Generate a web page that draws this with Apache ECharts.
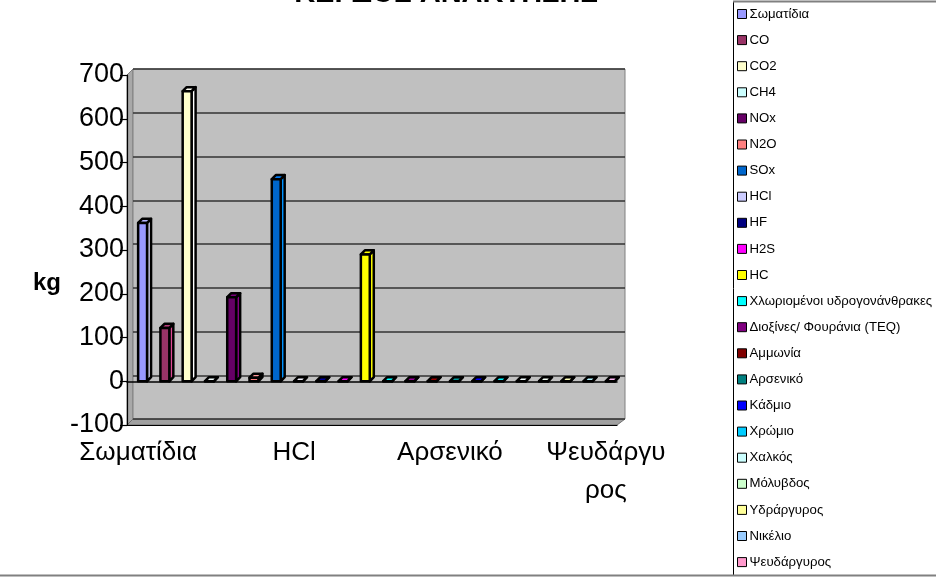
<!DOCTYPE html>
<html>
<head>
<meta charset="utf-8">
<script src="https://cdn.jsdelivr.net/npm/echarts@6/dist/echarts.min.js"></script>
<style>
  html, body { margin: 0; padding: 0; background: #fff; }
  #chart { width: 936px; height: 577px; }
</style>
</head>
<body>
<div id="chart"></div>
<script>
// Pollutant categories (x axis and legend entries)
const categories = [
  'Σωματίδια', 'CO', 'CO2', 'CH4', 'NOx', 'N2O', 'SOx', 'HCl', 'HF', 'H2S', 'HC',
  'Χλωριομένοι υδρογονάνθρακες', 'Διοξίνες/ Φουράνια (TEQ)', 'Αμμωνία', 'Αρσενικό',
  'Κάδμιο', 'Χρώμιο', 'Χαλκός', 'Μόλυβδος', 'Υδράργυρος', 'Νικέλιο', 'Ψευδάργυρος'
];
// Quantity per pollutant, kg
const values = [362, 122, 663, 0, 192, 8, 462, 0, 0, 0, 290, 0, 0, 0, 0, 0, 0, 0, 0, 0, 0, 0];
// Fill colour of each pollutant's column
const colors = [
  '#9999FF', '#993366', '#FFFFCC', '#CCFFFF', '#660066', '#FF8080', '#0066CC', '#CCCCFF',
  '#000080', '#FF00FF', '#FFFF00', '#00FFFF', '#800080', '#800000', '#008080', '#0000FF',
  '#00CCFF', '#CCFFFF', '#CCFFCC', '#FFFF99', '#99CCFF', '#FF99CC'
];
// Value axis range
const yMin = -100, yMax = 700, yStep = 100;

const titleText = 'ΚΕΡΔΟΣ ΑΝΑΚΤΗΣΗΣ';
const unitText = 'kg';

const chart = echarts.init(document.getElementById('chart'), null, { renderer: 'canvas' });
const FONT = 'Arial, "Liberation Sans", sans-serif';

// Column drawn as a box: front face, right side face and top face
function renderBox(params, api) {
  const i = api.value(0), v = api.value(1);
  const base = api.coord([i, 0]);
  const top = api.coord([i, v]);
  const w = api.size([1, 0])[0] * 0.4;
  const d = w * 0.45;
  const x0 = base[0], x1 = x0 + w, yb = base[1], yt = top[1];
  const c = api.visual('color');
  const side = echarts.color.lift(c, -0.45);
  const cap = echarts.color.lift(c, -0.2);
  const stroke = { stroke: '#000', lineWidth: 2.5, lineJoin: 'round' };
  return {
    type: 'group',
    children: [
      { type: 'polygon', shape: { points: [[x1, yt], [x1 + d, yt - d], [x1 + d, yb - d], [x1, yb]] },
        style: Object.assign({ fill: side }, stroke) },
      { type: 'polygon', shape: { points: [[x0, yt], [x0 + d, yt - d], [x1 + d, yt - d], [x1, yt]] },
        style: Object.assign({ fill: cap }, stroke) },
      { type: 'rect', shape: { x: x0, y: yt, width: w, height: yb - yt },
        style: Object.assign({ fill: c }, stroke) }
    ]
  };
}

// Long category names wrap onto a second line under the axis
function wrapLabel(s) {
  return s.length > 10 ? s.slice(0, 8) + '\n' + s.slice(8) : s;
}

const series = categories.map((name, i) => ({
  name: name,
  type: 'custom',
  xAxisIndex: 1,
  yAxisIndex: 1,
  renderItem: renderBox,
  itemStyle: { color: colors[i] },
  encode: { x: 0, y: 1 },
  data: [[i, values[i]]],
  z: 5
}));

const option = {
  animation: false,
  backgroundColor: '#fff',
  grid: [
    // back wall
    { left: 133, right: 311, top: 69, bottom: 158, show: true, backgroundColor: '#C0C0C0',
      borderColor: '#808080', borderWidth: 1, z: 0 },
    // front axes
    { left: 127, right: 319, top: 75, bottom: 152, show: false, z: 2 }
  ],
  xAxis: [
    { type: 'category', gridIndex: 0, data: categories, show: false },
    { type: 'category', gridIndex: 1, data: categories, position: 'bottom',
      axisLine: { onZero: false, lineStyle: { color: '#000', width: 1.2 } },
      axisTick: { inside: true, length: 5, lineStyle: { color: '#000', width: 1.2 } },
      axisLabel: { interval: 6, color: '#000', fontFamily: FONT, fontSize: 26, margin: 9,
        lineHeight: 38, formatter: wrapLabel, hideOverlap: false },
      splitLine: { show: false }, z: 6 },
    { type: 'category', gridIndex: 1, data: categories, position: 'bottom',
      axisLine: { onZero: true, lineStyle: { color: '#000', width: 1.5 } },
      axisTick: { inside: false, length: 6, lineStyle: { color: '#000', width: 1.2 } },
      axisLabel: { show: false }, splitLine: { show: false }, z: 4 }
  ],
  yAxis: [
    { type: 'value', gridIndex: 0, min: yMin, max: yMax, interval: yStep,
      axisLine: { show: false }, axisTick: { show: false }, axisLabel: { show: false },
      splitLine: { show: true, lineStyle: { color: '#333', width: 1.6 } } },
    { type: 'value', gridIndex: 1, min: yMin, max: yMax, interval: yStep,
      axisLine: { show: true, lineStyle: { color: '#000', width: 1.2 } },
      axisTick: { show: true, length: 7, lineStyle: { color: '#000', width: 1.2 } },
      axisLabel: { color: '#000', fontFamily: FONT, fontSize: 27, margin: 3 },
      splitLine: { show: false }, z: 6 }
  ],
  legend: {
    orient: 'vertical',
    left: 735,
    top: 0,
    padding: [7, 2, 7, 2],
    itemWidth: 9,
    itemHeight: 9,
    itemGap: 12.1,
    icon: 'rect',
    selectedMode: false,
    itemStyle: { borderColor: '#000', borderWidth: 1 },
    textStyle: { color: '#000', fontFamily: FONT, fontSize: 13.2, lineHeight: 14, padding: [0, 0, 0, -2] },
    data: categories
  },
  series: series
};

chart.setOption(option);

// 3D side wall and floor joining the front axes to the back wall, plus text and frame
function drawDecor() {
  const model = chart.getModel();
  const wall = model.getComponent('grid', 0).coordinateSystem.getRect();
  const front = model.getComponent('grid', 1).coordinateSystem.getRect();
  const fb = front.y + front.height, wb = wall.y + wall.height;
  const fr = front.x + front.width, wr = wall.x + wall.width;
  chart.setOption({
    graphic: [
      { type: 'polygon', z: -1, silent: true,
        shape: { points: [[front.x, front.y], [wall.x, wall.y], [wall.x, wb], [front.x, fb]] },
        style: { fill: '#A8A8A8', stroke: '#808080', lineWidth: 1 } },
      { type: 'polygon', z: -1, silent: true,
        shape: { points: [[front.x, fb], [fr, fb], [wr, wb], [wall.x, wb]] },
        style: { fill: '#A0A0A0', stroke: '#707070', lineWidth: 1 } },
      { type: 'text', silent: true, z: 10, x: 446, y: -6,
        style: { text: titleText, textAlign: 'center', textVerticalAlign: 'middle',
          font: 'bold 29px ' + FONT, fill: '#000' } },
      { type: 'text', silent: true, z: 10, x: 47, y: 283,
        style: { text: unitText, textAlign: 'center', textVerticalAlign: 'middle',
          font: 'bold 24px ' + FONT, fill: '#000' } },
      { type: 'line', silent: true, z: 10, shape: { x1: 733.5, y1: 1.5, x2: 733.5, y2: 575.5 },
        style: { stroke: '#000', lineWidth: 1 } },
      { type: 'line', silent: true, z: 10, shape: { x1: 733, y1: 1.5, x2: 936, y2: 1.5 },
        style: { stroke: '#808080', lineWidth: 2 } },
      { type: 'line', silent: true, z: 10, shape: { x1: 0, y1: 575.5, x2: 936, y2: 575.5 },
        style: { stroke: '#808080', lineWidth: 2 } }
    ]
  });
}
drawDecor();
</script>
</body>
</html>
